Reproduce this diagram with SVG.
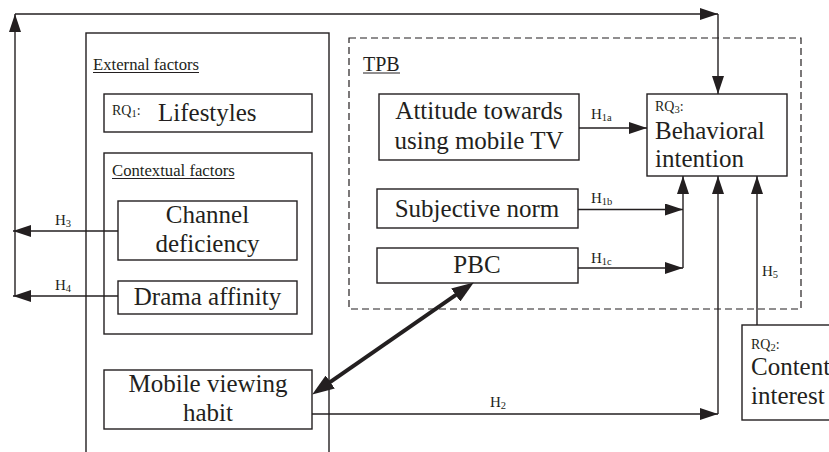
<svg xmlns="http://www.w3.org/2000/svg" width="829" height="452" viewBox="0 0 829 452">
<style>
.box{fill:#fff;stroke:#231f20;stroke-width:1.4}
.frame{fill:none;stroke:#231f20;stroke-width:1.4}
.dash{fill:none;stroke:#231f20;stroke-width:1.2;stroke-dasharray:7 4}
.ln{fill:none;stroke:#231f20;stroke-width:1.4}
.ul{stroke:#231f20;stroke-width:1}
.thick{fill:none;stroke:#231f20;stroke-width:4}
text{font-family:'Liberation Serif','Tinos','DejaVu Serif',serif;fill:#231f20}
.big{font-size:25px}
.mid{font-size:20px}
.lab{font-size:16.7px}
.rq{font-size:14px}
.h{font-size:15px}
.sub{font-size:10.5px}
.c{text-anchor:middle}
</style>
<defs>
<marker id="ah" markerUnits="userSpaceOnUse" markerWidth="18" markerHeight="12" refX="18" refY="6" orient="auto">
<path d="M0,0 L18,6 L0,12 z" fill="#231f20"/>
</marker>
<marker id="ahb" markerUnits="userSpaceOnUse" markerWidth="22" markerHeight="16" refX="13" refY="8" orient="auto-start-reverse">
<path d="M0,0 L22,8 L0,16 z" fill="#231f20"/>
</marker>
</defs>
<g font-family="Liberation Serif, DejaVu Serif, serif">
<g id="external-factors">
<rect class="frame" x="86" y="33" width="243" height="440"/>
<text class="lab" x="93" y="70">External factors</text>
<line class="ul" x1="93" y1="72.5" x2="199" y2="72.5"/>
</g>

<g id="lifestyles">
<rect class="box" x="104" y="94" width="208" height="38"/>
<text class="rq" x="112" y="115">RQ<tspan class="sub" dy="2">1</tspan><tspan dy="-2">:</tspan></text>
<text class="big" x="158" y="121">Lifestyles</text>
</g>

<g id="contextual-factors">
<rect class="frame" x="104" y="153" width="208" height="181"/>
<text class="lab" x="112" y="176">Contextual factors</text>
<line class="ul" x1="112" y1="178.5" x2="234.5" y2="178.5"/>
</g>

<g id="channel-deficiency">
<rect class="box" x="118" y="201" width="179" height="59"/>
<text class="big c" x="207.5" y="222.5">Channel</text>
<text class="big c" x="207.5" y="251.5">deficiency</text>
</g>

<g id="drama-affinity">
<rect class="box" x="118" y="281" width="179" height="33"/>
<text class="big c" x="207.5" y="305">Drama affinity</text>
</g>

<g id="mobile-viewing-habit">
<rect class="box" x="104" y="370" width="208" height="59"/>
<text class="big c" x="208" y="392">Mobile viewing</text>
<text class="big c" x="208" y="421">habit</text>
</g>

<g id="tpb">
<rect class="dash" x="349" y="38" width="452" height="271"/>
<text class="mid" x="363" y="70.5">TPB</text>
<line class="ul" x1="363" y1="73" x2="400" y2="73"/>
</g>

<g id="attitude">
<rect class="box" x="379" y="94" width="200" height="66"/>
<text class="big c" x="479" y="119">Attitude towards</text>
<text class="big c" x="479" y="149">using mobile TV</text>
</g>

<g id="subjective-norm">
<rect class="box" x="377" y="189" width="201" height="39"/>
<text class="big c" x="477" y="216.5">Subjective norm</text>
</g>

<g id="pbc">
<rect class="box" x="377" y="248" width="201" height="35"/>
<text class="big c" x="477" y="272.5">PBC</text>
</g>

<g id="behavioral-intention">
<rect class="box" x="647" y="94" width="140" height="82"/>
<text class="rq" x="655" y="111">RQ<tspan class="sub" dy="2">3</tspan><tspan dy="-2">:</tspan></text>
<text class="big" x="655" y="138.5">Behavioral</text>
<text class="big" x="655" y="167">intention</text>
</g>

<g id="content-interest">
<rect class="box" x="742" y="325" width="100" height="95"/>
<text class="rq" x="751" y="349">RQ<tspan class="sub" dy="2">2</tspan><tspan dy="-2">:</tspan></text>
<text class="big" x="751" y="375">Content</text>
<text class="big" x="751" y="404">interest</text>
</g>

<g id="connectors">
<path class="ln" d="M118,231 H13" marker-end="url(#ah)"/>
<path class="ln" d="M118,296 H13" marker-end="url(#ah)"/>
<path class="ln" d="M15,296 V14" marker-end="url(#ah)"/>
<path class="ln" d="M15,14 H718" marker-end="url(#ah)"/>
<path class="ln" d="M718,14 V94" marker-end="url(#ah)"/>
<path class="ln" d="M579,128 H647" marker-end="url(#ah)"/>
<path class="ln" d="M578,209.5 H683" marker-end="url(#ah)"/>
<path class="ln" d="M578,268 H683" marker-end="url(#ah)"/>
<path class="ln" d="M683,268 V176" marker-end="url(#ah)"/>
<path class="ln" d="M312,414 H718" marker-end="url(#ah)"/>
<path class="ln" d="M718,414 V176" marker-end="url(#ah)"/>
<path class="ln" d="M757,325 V176" marker-end="url(#ah)"/>
<line class="thick" x1="319.6" y1="389.4" x2="466.4" y2="287.6" marker-start="url(#ahb)" marker-end="url(#ahb)"/>
<text class="h" x="55" y="225">H<tspan class="sub" dy="2">3</tspan></text>
<text class="h" x="55" y="290">H<tspan class="sub" dy="2">4</tspan></text>
<text class="h" x="591" y="119">H<tspan class="sub" dy="2">1a</tspan></text>
<text class="h" x="591" y="203">H<tspan class="sub" dy="2">1b</tspan></text>
<text class="h" x="591" y="263">H<tspan class="sub" dy="2">1c</tspan></text>
<text class="h" x="490" y="407">H<tspan class="sub" dy="2">2</tspan></text>
<text class="h" x="762" y="276">H<tspan class="sub" dy="2">5</tspan></text>
</g>
</g>
</svg>
